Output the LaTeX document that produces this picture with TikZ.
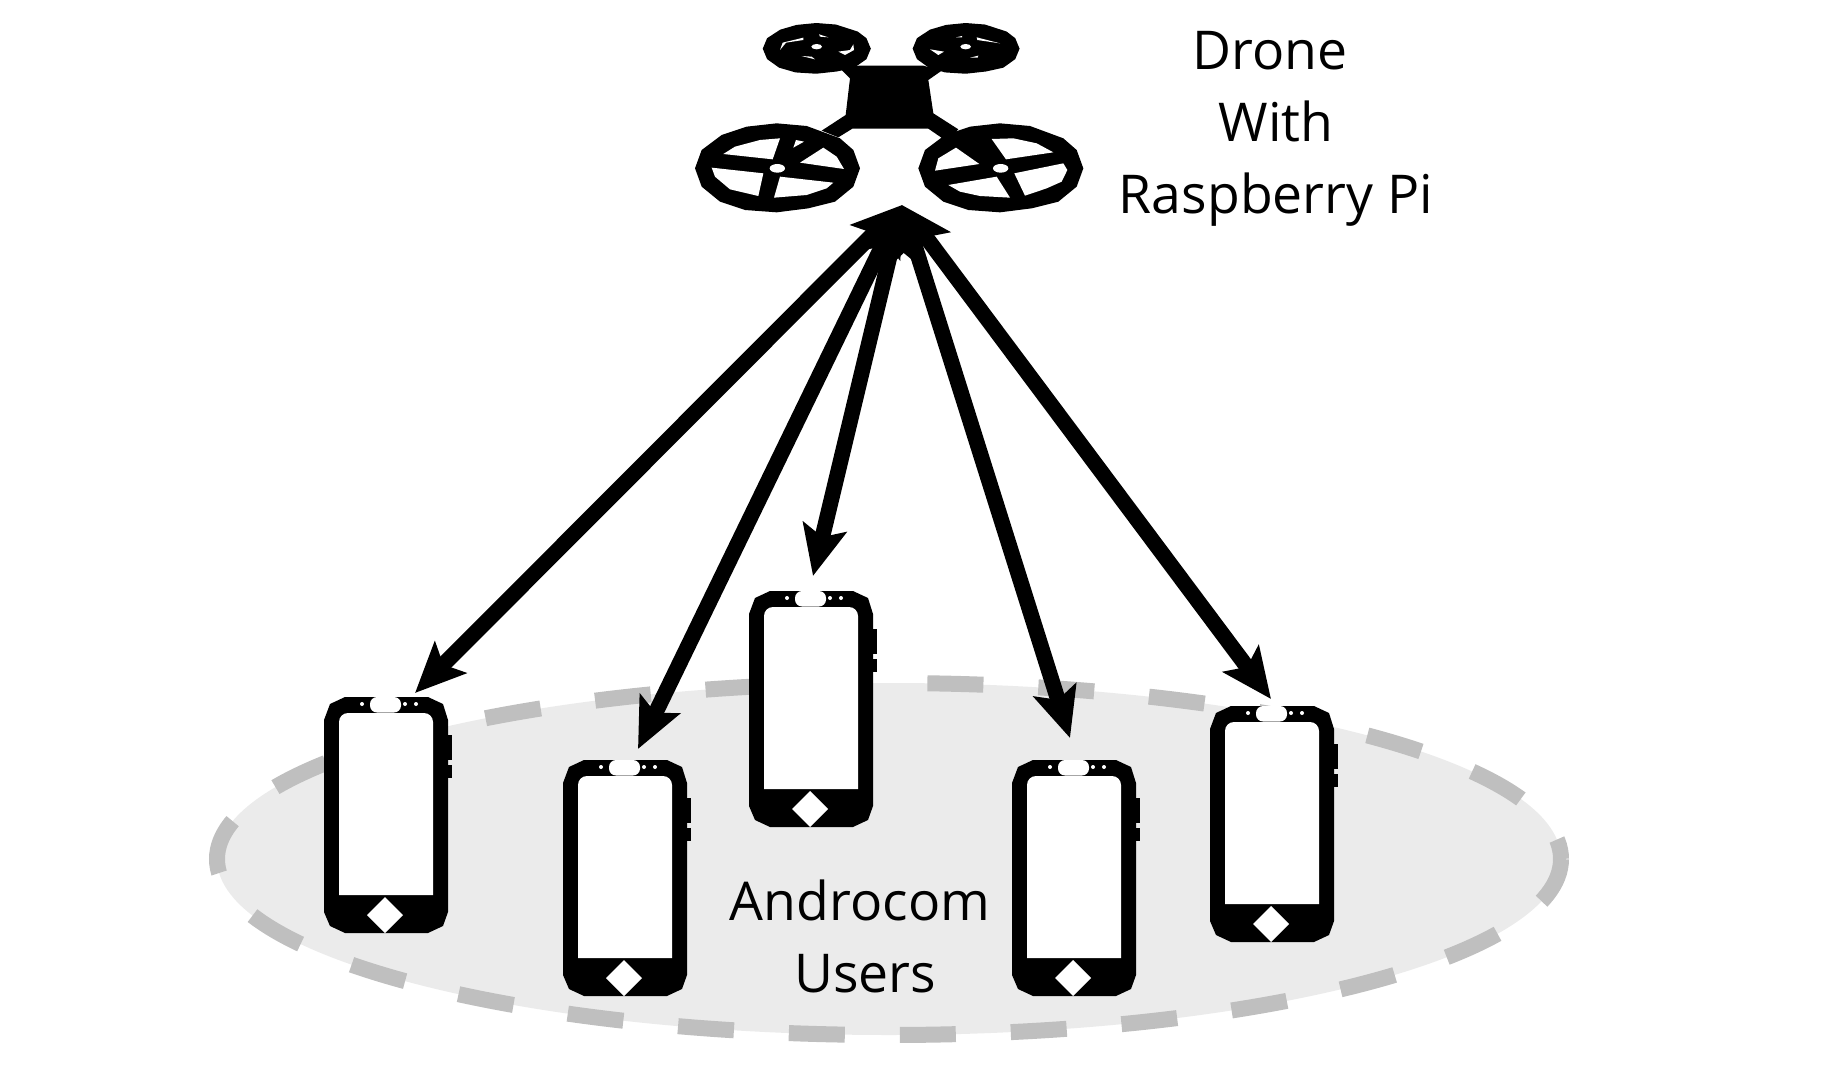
\documentclass[tikz,border=0pt]{standalone}
\usepackage{fontspec}
\usepackage{xcolor}
\setmainfont{Open Sans}
\usetikzlibrary{arrows.meta,shapes.geometric}
\definecolor{areafill}{HTML}{EBEBEB}
\definecolor{areadash}{HTML}{BFBFBF}

\begin{document}
\begin{tikzpicture}[
  x=1pt,y=-1pt,
  node distance=0pt,
  >={Stealth[length=50pt,width=44pt,inset=10pt]},
  phonenode/.style={inner sep=0pt,minimum width=124pt,minimum height=236pt},
  bothlink/.style={<->,line width=15.5pt},
  caption/.style={align=center,inner sep=0pt,font=\fontsize{53.5}{72}\selectfont},
  ]
  \tikzset{%
    phone/.pic={
      \begin{scope}[shift={(-62,-118)}]
        \fill[black] (21,0) -- (6,7) -- (0,23) -- (0,215) -- (6,229) -- (21,236) -- (104,236)
          -- (119,229) -- (124,215) -- (124,23) -- (119,7) -- (104,0) -- cycle;
        % side buttons
        \fill[black] (124,38) rectangle (128,63);
        \fill[black] (124,68) rectangle (128,81);
        % screen
        \fill[white] (15,198) -- (15,26) [rounded corners=9pt] -- (15,16) -- (109,16) [sharp corners] -- (109,198) -- cycle;
        \fill[white,rounded corners=7pt] (46,0) rectangle (77,15.5);
        \fill[white] (38,7) circle [radius=2];
        \fill[white] (81,7) circle [radius=2];
        \fill[white] (92,7) circle [radius=2];
        \fill[white] (61,200) -- (79,218) -- (61,236) -- (43,218) -- cycle;
      \end{scope}
    },
    rotorpad/.pic={
      \fill[black] (-247,0) -- (-227,-55) -- (-167,-100) -- (-92,-125) -- (-2,-135) -- (88,-127)
        -- (188,-90) -- (228,-55) -- (248,0) -- (228,55) -- (173,100) -- (93,120) -- (-2,132)
        -- (-97,125) -- (-172,100) -- (-227,55) -- cycle;
    },
  }
  \useasboundingbox (0,0) rectangle (1823,1065);
  %Area
  \node[ellipse,draw=areadash,fill=areafill,line width=16pt,dash pattern=on 56pt off 55pt,dash phase=36pt,
    inner sep=0pt,minimum width=1344pt,minimum height=352pt](area) at (889,859){};
  %Phones
  \node[phonenode](p1) at (386,815){};
  \node[phonenode,xshift=239pt,yshift=-63pt](p2)[right of=p1]{};
  \node[phonenode,xshift=425pt,yshift=106pt](p3)[right of=p1]{};
  \node[phonenode,xshift=688pt,yshift=-63pt](p4)[right of=p1]{};
  \node[phonenode,xshift=886pt,yshift=-9pt](p5)[right of=p1]{};
  \pic at (p1) {phone};
  \pic at (p2) {phone};
  \pic at (p3) {phone};
  \pic at (p4) {phone};
  \pic at (p5) {phone};
  %Drone
  \begin{scope}[shift={(680,0)},x=0.33333pt,y=-0.33333pt]
    % rotors
    \pic[xscale=.655,yscale=.57] at (410,146) {rotorpad};
    \pic[xscale=.648,yscale=.57] at (858,146) {rotorpad};
    \pic at (292,505) {rotorpad};
    \pic at (962,505) {rotorpad};
    % body
    \fill[black] (480,205) -- (510,235) -- (497,345) -- (425,392) -- (475,412) -- (517,386)
      -- (745,386) -- (780,410) -- (800,425) -- (835,388) -- (760,340) -- (745,240)
      -- (785,212) -- (730,197) -- (537,197) -- cycle;
    % rear rotor left
    \fill[white] (410,140) ellipse [x radius=16,y radius=8];
    \fill[white] (300,150) -- (308,128) -- (370,113) -- (370,120) -- (318,128) -- cycle;
    \fill[white] (417,103) -- (445,112) -- (420,110) -- cycle;
    \fill[white] (365,168) -- (405,178) -- (395,170) -- cycle;
    \fill[white] (475,155) -- (510,150) -- (520,133) -- (522,150) -- (495,165) -- cycle;
    % rear rotor right
    \fill[white] (857,140) ellipse [x radius=16,y radius=8];
    \fill[white] (750,148) -- (792,155) -- (775,165) -- cycle;
    \fill[white] (828,112) -- (846,108) -- (846,112) -- cycle;
    \fill[white] (890,112) -- (960,130) -- (892,120) -- cycle;
    \fill[white] (870,173) -- (895,167) -- (893,173) -- cycle;
    % front rotor left
    \fill[white] (130,462) -- (165,440) -- (240,420) -- (300,415) -- (278,478) -- cycle;
    \fill[white] (340,443) -- (348,420) -- (372,425) -- cycle;
    \fill[white] (360,488) -- (430,443) -- (470,470) -- (492,507) -- cycle;
    \fill[white] (300,530) -- (460,548) -- (440,565) -- (380,585) -- (282,593) -- cycle;
    \fill[white] (95,503) -- (250,520) -- (235,588) -- (150,568) -- (105,530) -- cycle;
    \fill[white] (292,505) ellipse [x radius=23,y radius=13];
    % front rotor right
    \fill[white] (935,417) -- (1000,415) -- (1070,430) -- (1120,457) -- (978,478) -- cycle;
    \fill[white] (765,512) -- (775,475) -- (828,443) -- (898,492) -- cycle;
    \fill[white] (805,555) -- (950,530) -- (990,593) -- (900,588) -- (840,575) -- cycle;
    \fill[white] (1003,520) -- (1150,490) -- (1162,510) -- (1145,545) -- (1100,565) -- (1035,587) -- cycle;
    \fill[white] (962,505) ellipse [x radius=23,y radius=13];
  \end{scope}
  %Lines
  \coordinate (port) at (902,205);
  \coordinate (tip1) at (415,693);
  \coordinate (tip2) at (638,749);
  \coordinate (tip3) at (813,576);
  \coordinate (tip4) at (1070,738);
  \coordinate (tip5) at (1271,699);
  \draw[bothlink] (port) -- (tip1);
  \draw[bothlink] (port) -- (tip2);
  \draw[bothlink] (port) -- (tip3);
  \draw[bothlink] (port) -- (tip4);
  \draw[bothlink] (port) -- (tip5);
  %Labels
  \node[caption](dronelabel) at (1276,129){Drone\hspace*{12pt}\\With\hspace*{34pt}\\Raspberry Pi};
  \node[caption](userlabel) at (865,936){Androcom\hspace*{10pt}\\Users};
\end{tikzpicture}
\end{document}
